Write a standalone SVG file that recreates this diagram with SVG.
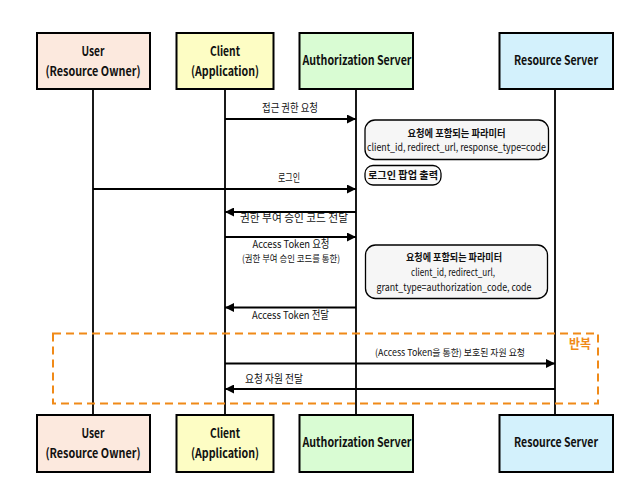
<svg xmlns="http://www.w3.org/2000/svg" width="635" height="488" viewBox="0 0 635 488">
<defs>
<style>
.box{stroke:#000;stroke-width:2}
.user{fill:#fce9de}
.client{fill:#fdfdc4}
.auth{fill:#d9fcd3}
.res{fill:#d3f1fc}
text{font-family:"Noto Sans CJK KR","Noto Sans",sans-serif;text-anchor:middle;fill:#111}
.bl{font-size:13px;font-weight:bold}
.life{stroke:#000;stroke-width:1.8;fill:none}
.msg{stroke:#000;stroke-width:1.8;fill:none;marker-end:url(#ah)}
.lbl{font-size:11px}
.sm{font-size:9.5px}
.note{fill:#f6f6f6;stroke:#000;stroke-width:1.3}
.nt{font-size:10.5px}
.b{font-weight:bold}
.loop{fill:none;stroke:#f08a18;stroke-width:2;stroke-dasharray:8 5}
.loopt{font-size:13px;font-weight:bold;fill:#f08a18}
</style>
<marker id="ah" viewBox="0 0 10 10" refX="10" refY="5" markerWidth="5" markerHeight="5" markerUnits="strokeWidth" orient="auto">
<path d="M0,0 L10,5 L0,10 z" fill="#000"/>
</marker>
</defs>

<g id="lifelines">
<line class="life" x1="93" y1="89" x2="93" y2="415"/>
<line class="life" x1="225" y1="89" x2="225" y2="415"/>
<line class="life" x1="356" y1="89" x2="356" y2="415"/>
<line class="life" x1="555" y1="89" x2="555" y2="415"/>
</g>

<g id="loop">
<rect class="loop" x="53" y="333.5" width="545" height="70"/>
<text class="loopt" x="580" y="348" textLength="22" lengthAdjust="spacingAndGlyphs">반복</text>
</g>

<g id="user-top">
<rect class="box user" x="37" y="33" width="113" height="56"/>
<text class="bl" x="93" y="56" textLength="23" lengthAdjust="spacingAndGlyphs">User</text>
<text class="bl" x="93" y="75.5" textLength="95" lengthAdjust="spacingAndGlyphs">(Resource Owner)</text>
</g>
<g id="client-top">
<rect class="box client" x="176.5" y="33" width="97" height="56"/>
<text class="bl" x="225" y="56" textLength="30" lengthAdjust="spacingAndGlyphs">Client</text>
<text class="bl" x="225" y="75.5" textLength="68" lengthAdjust="spacingAndGlyphs">(Application)</text>
</g>
<g id="auth-top">
<rect class="box auth" x="299.5" y="33" width="113.5" height="56"/>
<text class="bl" x="357" y="65" textLength="109" lengthAdjust="spacingAndGlyphs">Authorization Server</text>
</g>
<g id="res-top">
<rect class="box res" x="499.5" y="33" width="113.5" height="56"/>
<text class="bl" x="556" y="65" textLength="84" lengthAdjust="spacingAndGlyphs">Resource Server</text>
</g>

<g id="user-bottom">
<rect class="box user" x="37" y="415" width="113" height="57"/>
<text class="bl" x="93" y="438" textLength="23" lengthAdjust="spacingAndGlyphs">User</text>
<text class="bl" x="93" y="457.5" textLength="95" lengthAdjust="spacingAndGlyphs">(Resource Owner)</text>
</g>
<g id="client-bottom">
<rect class="box client" x="176.5" y="415" width="97" height="57"/>
<text class="bl" x="225" y="438" textLength="30" lengthAdjust="spacingAndGlyphs">Client</text>
<text class="bl" x="225" y="457.5" textLength="68" lengthAdjust="spacingAndGlyphs">(Application)</text>
</g>
<g id="auth-bottom">
<rect class="box auth" x="299.5" y="415" width="113.5" height="57"/>
<text class="bl" x="357" y="447" textLength="109" lengthAdjust="spacingAndGlyphs">Authorization Server</text>
</g>
<g id="res-bottom">
<rect class="box res" x="499.5" y="415" width="113.5" height="57"/>
<text class="bl" x="556" y="447" textLength="84" lengthAdjust="spacingAndGlyphs">Resource Server</text>
</g>

<g id="connectors">
<line class="msg" x1="225" y1="119" x2="356" y2="119"/>
<line class="msg" x1="93" y1="189" x2="356" y2="189"/>
<line class="msg" x1="356" y1="212" x2="225" y2="212"/>
<line class="msg" x1="225" y1="237" x2="356" y2="237"/>
<line class="msg" x1="356" y1="307.5" x2="225" y2="307.5"/>
<line class="msg" x1="225" y1="363.5" x2="555" y2="363.5"/>
<line class="msg" x1="555" y1="389" x2="225" y2="389"/>
</g>

<g id="labels">
<text class="lbl" x="290" y="112" textLength="56" lengthAdjust="spacingAndGlyphs">접근 권한 요청</text>
<text class="lbl" x="289" y="182" textLength="22" lengthAdjust="spacingAndGlyphs">로그인</text>
<text class="lbl" x="294" y="222" textLength="108" lengthAdjust="spacingAndGlyphs">권한 부여 승인 코드 전달</text>
<text class="lbl" x="291" y="248" textLength="77" lengthAdjust="spacingAndGlyphs">Access Token 요청</text>
<text class="lbl sm" x="291" y="261.5" textLength="98" lengthAdjust="spacingAndGlyphs">(권한 부여 승인 코드를 통한)</text>
<text class="lbl" x="290.5" y="319" textLength="77" lengthAdjust="spacingAndGlyphs">Access Token 전달</text>
<text class="lbl sm" x="450" y="355.5" textLength="150" lengthAdjust="spacingAndGlyphs">(Access Token을 통한) 보호된 자원 요청</text>
<text class="lbl" x="274" y="383" textLength="58" lengthAdjust="spacingAndGlyphs">요청 자원 전달</text>
</g>

<g id="note1">
<rect class="note" x="365" y="120" width="183.5" height="39.5" rx="10"/>
<text class="nt b" x="456.5" y="136.5" textLength="98" lengthAdjust="spacingAndGlyphs">요청에 포함되는 파라미터</text>
<text class="nt" x="456.5" y="151" textLength="179" lengthAdjust="spacingAndGlyphs">client_id, redirect_url, response_type=code</text>
</g>
<g id="note2">
<rect class="note" x="365" y="165.5" width="76" height="19.5" rx="8" style="fill:#fafafa"/>
<text class="nt b" x="403" y="179" textLength="70" lengthAdjust="spacingAndGlyphs">로그인 팝업 출력</text>
</g>
<g id="note3">
<rect class="note" x="365.5" y="245" width="182" height="53.5" rx="10"/>
<text class="nt b" x="454" y="261" textLength="96" lengthAdjust="spacingAndGlyphs">요청에 포함되는 파라미터</text>
<text class="nt" x="453" y="275.5" textLength="84" lengthAdjust="spacingAndGlyphs">client_id, redirect_url,</text>
<text class="nt" x="454" y="290.5" textLength="155" lengthAdjust="spacingAndGlyphs">grant_type=authorization_code, code</text>
</g>
</svg>
